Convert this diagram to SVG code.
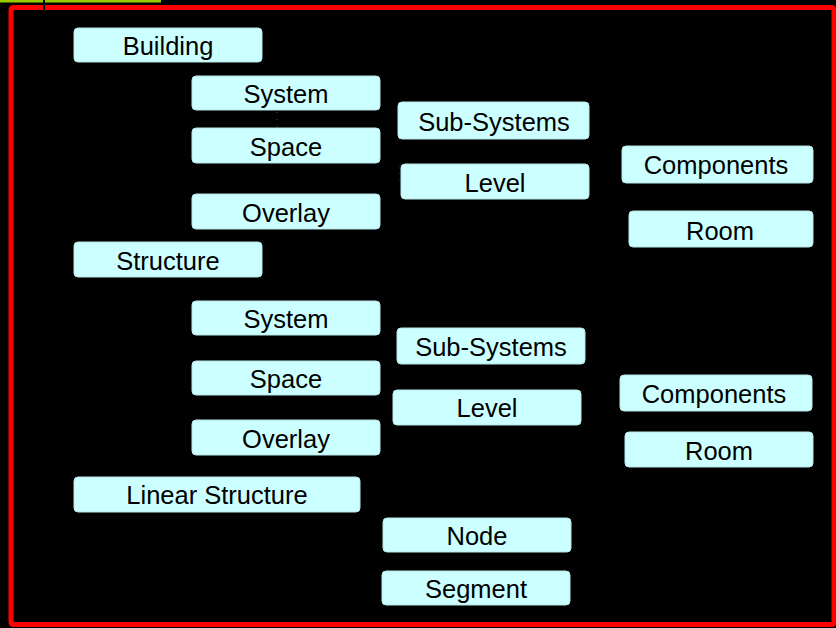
<svg xmlns="http://www.w3.org/2000/svg" width="836" height="628" viewBox="0 0 836 628">
<style>
.n rect{fill:#CCFFFF;stroke:#B8E6E6;stroke-width:1}
.n text{font-family:"Liberation Sans",Arial,sans-serif;font-size:25.5px;fill:#000;text-anchor:middle;dominant-baseline:central}
.c line{stroke:#555;stroke-width:1;stroke-dasharray:1 6}
</style>
<rect x="0" y="0" width="836" height="628" fill="#000"/>
<rect x="0" y="0" width="161" height="2.5" fill="#99CC00"/>
<rect x="11" y="7.5" width="823" height="617" fill="none" stroke="#FF0000" stroke-width="5" rx="2"/>
<rect x="43" y="0" width="2" height="10" fill="#000"/>
<g class="c" id="connectors">
<line x1="277" y1="98" x2="277" y2="128"/>
<line x1="400" y1="166" x2="400" y2="182"/>
</g>
<g class="n" id="building"><rect x="74" y="28" width="188" height="34" rx="4"/><text x="168" y="46">Building</text></g>
<g class="n" id="system1"><rect x="192" y="76" width="188" height="34" rx="4"/><text x="286" y="94">System</text></g>
<g class="n" id="subsystems1"><rect x="398" y="102" width="191" height="37" rx="4"/><text x="494" y="122">Sub-Systems</text></g>
<g class="n" id="space1"><rect x="192" y="128" width="188" height="35" rx="4"/><text x="286" y="147">Space</text></g>
<g class="n" id="components1"><rect x="622" y="146" width="191" height="37" rx="4"/><text x="716" y="165">Components</text></g>
<g class="n" id="level1"><rect x="401" y="164" width="188" height="35" rx="4"/><text x="495" y="183">Level</text></g>
<g class="n" id="overlay1"><rect x="192" y="194" width="188" height="35" rx="4"/><text x="286" y="213">Overlay</text></g>
<g class="n" id="room1"><rect x="629" y="211" width="184" height="36" rx="4"/><text x="720" y="231">Room</text></g>
<g class="n" id="structure"><rect x="74" y="242" width="188" height="35" rx="4"/><text x="168" y="261">Structure</text></g>
<g class="n" id="system2"><rect x="192" y="301" width="188" height="34" rx="4"/><text x="286" y="319">System</text></g>
<g class="n" id="subsystems2"><rect x="397" y="328" width="188" height="36" rx="4"/><text x="491" y="347">Sub-Systems</text></g>
<g class="n" id="space2"><rect x="192" y="361" width="188" height="34" rx="4"/><text x="286" y="379">Space</text></g>
<g class="n" id="components2"><rect x="620" y="375" width="192" height="36" rx="4"/><text x="714" y="394">Components</text></g>
<g class="n" id="level2"><rect x="393" y="390" width="188" height="35" rx="4"/><text x="487" y="408">Level</text></g>
<g class="n" id="overlay2"><rect x="192" y="420" width="188" height="35" rx="4"/><text x="286" y="439">Overlay</text></g>
<g class="n" id="room2"><rect x="625" y="432" width="188" height="35" rx="4"/><text x="719" y="451">Room</text></g>
<g class="n" id="linear"><rect x="74" y="477" width="286" height="35" rx="4"/><text x="217" y="495">Linear Structure</text></g>
<g class="n" id="node"><rect x="383" y="518" width="188" height="34" rx="4"/><text x="477" y="536">Node</text></g>
<g class="n" id="segment"><rect x="382" y="571" width="188" height="34" rx="4"/><text x="476" y="589">Segment</text></g>
</svg>
